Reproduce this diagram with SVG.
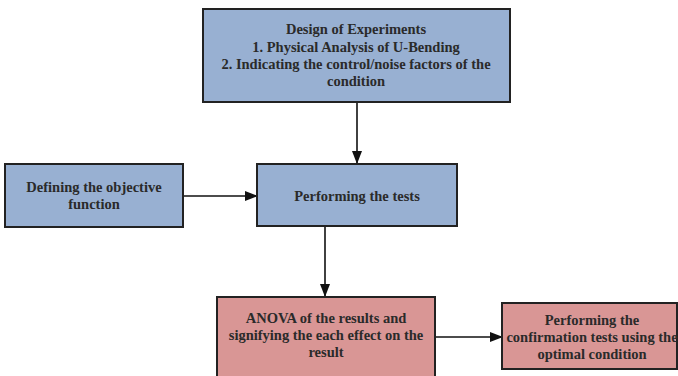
<svg xmlns="http://www.w3.org/2000/svg" width="678" height="376" viewBox="0 0 678 376">
<defs>
<marker id="arr" markerWidth="13" markerHeight="10" refX="12" refY="5" orient="auto" markerUnits="userSpaceOnUse">
<path d="M0,0 L13,5 L0,10 Z" fill="#111"/>
</marker>
<style>
.blue{fill:#98b0d2;stroke:#222;stroke-width:2}
.pink{fill:#d99695;stroke:#222;stroke-width:2}
.t{font-family:"Liberation Serif","Times New Roman",serif;font-weight:bold;font-size:14.5px;fill:#2a2a2a;text-anchor:middle}
.c{stroke:#111;stroke-width:1.6;fill:none}
</style>
</defs>
<rect width="678" height="376" fill="#fff"/>
<g id="connectors">
<line class="c" x1="357" y1="103" x2="357" y2="163" marker-end="url(#arr)"/>
<line class="c" x1="183" y1="196" x2="257" y2="196" marker-end="url(#arr)"/>
<line class="c" x1="325" y1="227" x2="325" y2="296" marker-end="url(#arr)"/>
<line class="c" x1="435" y1="337" x2="502" y2="337" marker-end="url(#arr)"/>
</g>
<g id="doe">
<rect class="blue" x="203" y="9" width="307" height="93"/>
<text class="t" x="356" y="34">Design of Experiments</text>
<text class="t" x="356" y="52">1. Physical Analysis of U-Bending</text>
<text class="t" x="356" y="69">2. Indicating the control/noise factors of the</text>
<text class="t" x="356" y="86">condition</text>
</g>
<g id="objective">
<rect class="blue" x="5" y="164" width="178" height="63"/>
<text class="t" x="94" y="192">Defining the objective</text>
<text class="t" x="94" y="209">function</text>
</g>
<g id="tests">
<rect class="blue" x="257" y="164" width="200" height="62"/>
<text class="t" x="357" y="201">Performing the tests</text>
</g>
<g id="anova">
<rect class="pink" x="217" y="297" width="218" height="90"/>
<text class="t" x="326" y="323">ANOVA of the results and</text>
<text class="t" x="326" y="340">signifying the each effect on the</text>
<text class="t" x="326" y="357">result</text>
</g>
<g id="confirm">
<rect class="pink" x="502" y="303" width="175" height="66"/>
<text class="t" x="592" y="325">Performing the</text>
<text class="t" x="592" y="342">confirmation tests using the</text>
<text class="t" x="592" y="359">optimal condition</text>
</g>
</svg>
